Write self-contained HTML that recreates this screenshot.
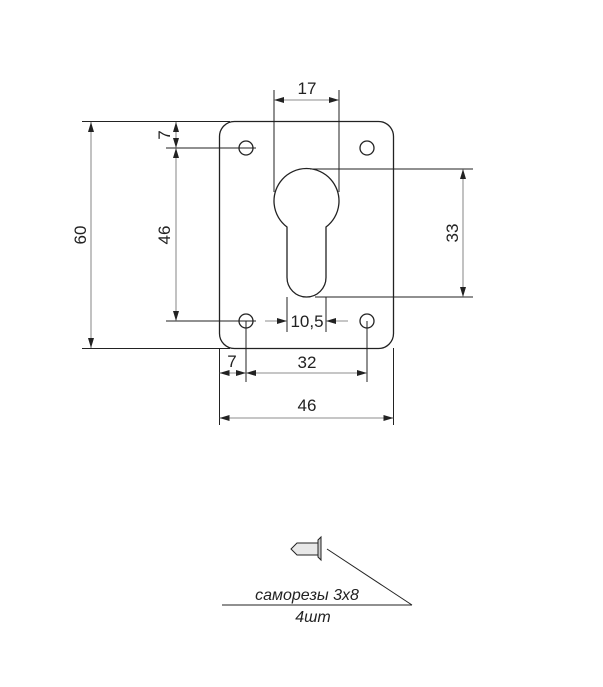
<!DOCTYPE html>
<html><head><meta charset="utf-8"><style>html,body{margin:0;padding:0;background:#fff}</style></head>
<body>
<svg width="603" height="682" viewBox="0 0 603 682" xmlns="http://www.w3.org/2000/svg">
<defs>
<marker id="a" viewBox="0 0 10 6" refX="10" refY="3" markerWidth="10" markerHeight="6" markerUnits="userSpaceOnUse" orient="auto-start-reverse"><path d="M0,0L10,3L0,6z" fill="#222"/></marker>
</defs>
<g fill="none" stroke="#222" stroke-width="1.3">
<rect x="219.5" y="121.5" width="174" height="227" rx="15"/>
<circle cx="246" cy="148" r="7"/><circle cx="367" cy="148" r="7"/>
<circle cx="246" cy="321" r="7"/><circle cx="367" cy="321" r="7"/>
<path d="M287,227 A32.5,32.5 0 1 1 326,227 L326,277.5 A19.5,19.5 0 0 1 287,277.5 Z"/>
</g>
<g stroke="#222" stroke-width="1" fill="none">
<line x1="82" y1="121.5" x2="230" y2="121.5"/>
<line x1="82" y1="348.5" x2="230" y2="348.5"/>
<line x1="166" y1="148" x2="256" y2="148"/>
<line x1="166" y1="321" x2="256" y2="321"/>
<line x1="274" y1="90" x2="274" y2="192"/>
<line x1="339" y1="90" x2="339" y2="192"/>
<line x1="310" y1="169" x2="473" y2="169"/>
<line x1="315" y1="297" x2="473" y2="297"/>
<line x1="287" y1="297" x2="287" y2="332"/>
<line x1="326" y1="297" x2="326" y2="332"/>
<line x1="219.5" y1="348" x2="219.5" y2="425"/>
<line x1="393.5" y1="348" x2="393.5" y2="425"/>
<line x1="246" y1="321" x2="246" y2="382"/>
<line x1="367" y1="321" x2="367" y2="382"/>
</g>
<g stroke="#666" stroke-width="0.8" fill="none">
<line x1="91" y1="122" x2="91" y2="348" marker-start="url(#a)" marker-end="url(#a)"/>
<line x1="176" y1="148" x2="176" y2="321" marker-start="url(#a)" marker-end="url(#a)"/>
<line x1="176" y1="122" x2="176" y2="148" marker-start="url(#a)" marker-end="url(#a)"/>
<line x1="274" y1="100" x2="339" y2="100" marker-start="url(#a)" marker-end="url(#a)"/>
<line x1="463" y1="169" x2="463" y2="297" marker-start="url(#a)" marker-end="url(#a)"/>
<line x1="265" y1="321" x2="287" y2="321" marker-end="url(#a)"/>
<line x1="348" y1="321" x2="326" y2="321" marker-end="url(#a)"/>
<line x1="219.5" y1="373" x2="246" y2="373" marker-start="url(#a)" marker-end="url(#a)"/>
<line x1="246" y1="373" x2="367" y2="373" marker-start="url(#a)" marker-end="url(#a)"/>
<line x1="219.5" y1="418" x2="393.5" y2="418" marker-start="url(#a)" marker-end="url(#a)"/>
</g>
<g font-family="Liberation Sans, sans-serif" font-size="17" fill="#222" text-anchor="middle">
<text x="307" y="94">17</text>
<text x="307" y="327">10,5</text>
<text x="232" y="367">7</text>
<text x="307" y="368">32</text>
<text x="307" y="411">46</text>
<text transform="translate(86,235) rotate(-90)">60</text>
<text transform="translate(170,235) rotate(-90)">46</text>
<text transform="translate(170,135) rotate(-90)">7</text>
<text transform="translate(458,233) rotate(-90)">33</text>
</g>
<g stroke="#222" stroke-width="1" fill="#e8e8e8">
<path d="M318,543 L297,543 L291,549 L297,555 L318,555 Z"/>
<path d="M318,540 L321,537 L321,560 L318,557 Z" fill="#ccc"/>
</g>
<g stroke="#222" stroke-width="1">
<line x1="327" y1="549" x2="412" y2="605"/>
<line x1="222" y1="605" x2="412" y2="605"/>
</g>
<g font-family="Liberation Sans, sans-serif" font-size="16" font-style="italic" fill="#222" text-anchor="middle">
<text x="307" y="600">саморезы 3x8</text>
<text x="313" y="622">4шт</text>
</g>
</svg>
</body></html>
